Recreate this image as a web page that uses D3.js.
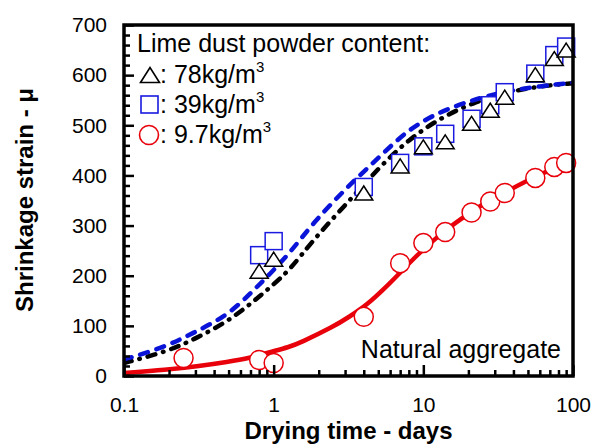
<!DOCTYPE html>
<html><head><meta charset="utf-8">
<script src="https://cdn.jsdelivr.net/npm/d3@7"></script>
<style>
html,body{margin:0;padding:0;background:#fff;}
svg{display:block;font-family:Arial,"Liberation Sans",sans-serif;}
</style></head>
<body><svg id="chart" width="598" height="444"></svg>
<script>
// ---- data ----
const pointDays = [0.8, 1, 4, 7, 10, 14, 21, 28, 35, 56, 75, 90];
const tri78 = [209, 233, 365, 419, 457, 467, 504, 530, 556, 601, 633, 650];
const sq39  = [241, 269, 377, 425, 458, 483, 513, 540, 566, 603, 640, 657];
const circDays = [0.25, 0.8, 1, 4, 7, 10, 14, 21, 28, 35, 56, 75, 90];
const circ97 = [36, 32, 26, 118, 225, 265, 287, 326, 348, 365, 395, 417, 425];

const curveDays78 = [0.1, 0.19, 0.29, 0.49, 0.73, 0.94, 1.28, 1.83, 3.1, 5.1, 8, 12.9, 21.4, 36, 60, 100];
const curve78 = [26, 48, 72, 108, 148, 176, 211, 271, 345, 417, 472, 514, 545, 566, 578, 584];
const curveDays39 = [0.1, 0.19, 0.29, 0.49, 0.73, 0.94, 1.28, 1.83, 3.1, 5.1, 8, 12.9, 21.4, 36, 60, 100];
const curve39 = [33, 58, 86, 120, 170, 203, 245, 305, 377, 437, 493, 527, 551, 568, 578, 585];
const curveDays97 = [0.1, 0.19, 0.32, 0.49, 0.7, 0.9, 1.28, 1.5, 2.5, 3.2, 4.2, 5.4, 7, 9, 11.6, 15, 19.5, 25, 36, 60, 100];
const curve97 = [6, 12, 20, 28, 36, 46, 58, 66, 98, 118, 142, 172, 206, 240, 270, 297, 321, 343, 368, 403, 428];

const xTicks = [0.1, 1, 10, 100];
const xTickLabels = ["0.1", "1", "10", "100"];
const yTicks = [0, 100, 200, 300, 400, 500, 600, 700];
const yMinorTicks = [20,40,60,80,120,140,160,180,220,240,260,280,320,340,360,380,420,440,460,480,520,540,560,580,620,640,660,680];
const xMinorTicks = [0.2,0.3,0.4,0.5,0.6,0.7,0.8,0.9,2,3,4,5,6,7,8,9,20,30,40,50,60,70,80,90];

const legendTitle = "Lime dust powder content:";
const legendLabels = [": 78kg/m", ": 39kg/m", ": 9.7kg/m"];
const noteText = "Natural aggregate";
const xTitle = "Drying time - days";
const yTitle = "Shrinkage strain - \u03bc";

// ---- layout ----
const L = 124, R = 573, T = 25, B = 376;
const svg = d3.select("#chart");
const x = d3.scaleLog().domain([0.1, 100]).range([L, R]);
const y = d3.scaleLinear().domain([0, 700]).range([B, T]);

// curves
const line = d3.line().x(d => x(d[0])).y(d => y(d[1])).curve(d3.curveBasis);
const zip = (a, b) => a.map((v, i) => [v, b[i]]);

svg.append("clipPath").attr("id", "clp").append("rect")
  .attr("x", L).attr("y", T).attr("width", R - L).attr("height", B - T);
const plot = svg.append("g").attr("clip-path", "url(#clp)");

plot.append("path").datum(zip(curveDays97, curve97)).attr("d", line)
  .attr("fill", "none").attr("stroke", "#e8000b").attr("stroke-width", 4.5);
plot.append("path").datum(zip(curveDays78, curve78)).attr("d", line)
  .attr("fill", "none").attr("stroke", "#000").attr("stroke-width", 4.5)
  .attr("stroke-linecap", "round").attr("stroke-dasharray", "8,8,0.5,8");
plot.append("path").datum(zip(curveDays39, curve39)).attr("d", line)
  .attr("fill", "none").attr("stroke", "#0a14d8").attr("stroke-width", 4.5)
  .attr("stroke-linecap", "round").attr("stroke-dasharray", "8,9");

// markers
const triPath = (cx, cy, w, h) => `M${cx - w/2},${cy + h/2}L${cx},${cy - h/2}L${cx + w/2},${cy + h/2}Z`;

svg.append("g").selectAll("circle").data(zip(circDays, circ97)).join("circle")
  .attr("cx", d => x(d[0])).attr("cy", d => y(d[1])).attr("r", 9.5)
  .attr("fill", "#fff").attr("stroke", "#e8000b").attr("stroke-width", 1.5);
svg.append("g").selectAll("rect").data(zip(pointDays, sq39)).join("rect")
  .attr("x", d => x(d[0]) - 8.5).attr("y", d => y(d[1]) - 8.5).attr("width", 17).attr("height", 17)
  .attr("fill", "#fff").attr("stroke", "#1a1ae0").attr("stroke-width", 1.5);
svg.append("g").selectAll("path").data(zip(pointDays, tri78)).join("path")
  .attr("d", d => triPath(x(d[0]), y(d[1]), 18, 14))
  .attr("fill", "#fff").attr("stroke", "#000").attr("stroke-width", 1.5);

// axes
const gy = svg.append("g").attr("transform", `translate(${L},0)`)
  .call(d3.axisLeft(y).tickValues(yTicks).tickSize(-10).tickPadding(17).tickFormat(d3.format("d")));
const gym = svg.append("g").attr("transform", `translate(${L},0)`)
  .call(d3.axisLeft(y).tickValues(yMinorTicks).tickSize(-6).tickFormat(""));
const gx = svg.append("g").attr("transform", `translate(0,${B})`)
  .call(d3.axisBottom(x).tickValues(xTicks).tickSize(-11).tickPadding(21).tickFormat((d, i) => xTickLabels[i]));
const gxm = svg.append("g").attr("transform", `translate(0,${B})`)
  .call(d3.axisBottom(x).tickValues(xMinorTicks).tickSize(-6).tickFormat(""));
[gym, gxm].forEach(g => g.selectAll("text").remove());
[gy, gym, gx, gxm].forEach(g => {
  g.select(".domain").remove();
  g.selectAll(".tick line").attr("stroke", "#000").attr("stroke-width", 2.5);
  g.selectAll("text").attr("font-size", 21).attr("fill", "#000").attr("font-family", 'Arial,"Liberation Sans",sans-serif');
});
// frame
svg.append("rect").attr("x", L).attr("y", T).attr("width", R - L).attr("height", B - T)
  .attr("fill", "none").attr("stroke", "#000").attr("stroke-width", 3.5);

// titles
svg.append("text").attr("x", (L + R) / 2).attr("y", 439).attr("text-anchor", "middle")
  .attr("font-size", 24).attr("font-weight", "bold").text(xTitle);
svg.append("text").attr("transform", "translate(33,200) rotate(-90)").attr("text-anchor", "middle")
  .attr("font-size", 24).attr("font-weight", "bold").text(yTitle);

// legend
svg.append("text").attr("x", 137).attr("y", 52).attr("font-size", 25).text(legendTitle);
const rowsY = [83, 113, 143];
svg.append("path").attr("d", triPath(150, 75, 19, 15)).attr("fill", "none").attr("stroke", "#000").attr("stroke-width", 1.6);
svg.append("rect").attr("x", 141).attr("y", 96).attr("width", 17).attr("height", 17)
  .attr("fill", "none").attr("stroke", "#1a1ae0").attr("stroke-width", 1.6);
svg.append("circle").attr("cx", 149).attr("cy", 135).attr("r", 9.5)
  .attr("fill", "none").attr("stroke", "#e8000b").attr("stroke-width", 1.6);
legendLabels.forEach((lab, i) => {
  const t = svg.append("text").attr("x", 160).attr("y", rowsY[i]).attr("font-size", 25);
  t.append("tspan").text(lab);
  t.append("tspan").attr("font-size", 15).attr("dy", -11).text("3");
});

svg.append("text").attr("x", 561).attr("y", 358).attr("text-anchor", "end").attr("font-size", 25).text(noteText);
</script></body></html>
